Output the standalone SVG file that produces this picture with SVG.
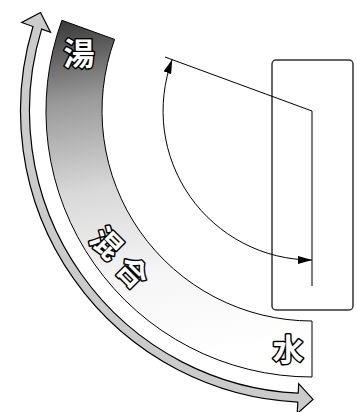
<svg xmlns="http://www.w3.org/2000/svg" width="357" height="412" viewBox="0 0 357 412">
  <style>
    .lbl { font-family: "Noto Sans CJK JP", "Noto Sans CJK SC", sans-serif; font-weight: 700; fill: #fff; stroke: #000; stroke-width: 3; stroke-linejoin: round; paint-order: stroke; text-anchor: middle; dominant-baseline: central; }
    .thin { fill: none; stroke: #000; stroke-width: 1; }
  </style>
  <defs>
    <linearGradient id="bandGrad" gradientUnits="userSpaceOnUse" x1="0" y1="20" x2="60" y2="380">
      <stop offset="0" stop-color="#2c2c2c"/>
      <stop offset="0.25" stop-color="#999"/>
      <stop offset="0.5" stop-color="#d8d8d8"/>
      <stop offset="0.75" stop-color="#f5f5f5"/>
      <stop offset="1" stop-color="#fff"/>
    </linearGradient>
    <marker id="ah" viewBox="0 0 14 8" refX="14" refY="4" markerWidth="14" markerHeight="8" markerUnits="userSpaceOnUse" orient="auto-start-reverse">
      <path d="M0,0 L14,4 L0,8 Z" fill="#000"/>
    </marker>
  </defs>

  <g id="band">
    <path d="M61.9,20.3 L114.6,39.4 A210 210 0 0 0 312,321 L312,377 A266 266 0 0 1 61.9,20.3 Z" fill="url(#bandGrad)" stroke="#000" stroke-width="1"/>
  </g>

  <g id="panel">
    <rect x="272" y="60" width="81" height="250" rx="4" fill="none" stroke="#333" stroke-width="1.5"/>
  </g>

  <g id="connectors">
    <path id="flow-arrow" d="M40.5,12.5 L50.5,32.3 L41.6,29.1 A282.5 282.5 0 0 0 298.2,393.2 L298.7,383.7 L313,399.4 L297.2,413.6 L297.8,402.1 A291.5 291.5 0 0 1 33.0,26.5 L21.7,22.5 Z" fill="#cbcbcb" stroke="#000" stroke-width="1.2" stroke-linejoin="miter"/>
    <path id="lever" class="thin" d="M165,57 L312,111 L312,286"/>
    <path id="angle-arc" class="thin" d="M172.2,59.6 A149 149 0 0 0 312,260" marker-start="url(#ah)" marker-end="url(#ah)"/>
  </g>

  <g id="labels">
    <text class="lbl" x="79" y="51" font-size="31">湯</text>
    <text class="lbl" x="108" y="242" font-size="30" transform="rotate(45 108 242)">混</text>
    <text class="lbl" x="134" y="271" font-size="30" transform="rotate(45 134 271)">合</text>
    <text class="lbl" x="288" y="347" font-size="31">水</text>
  </g>
</svg>
